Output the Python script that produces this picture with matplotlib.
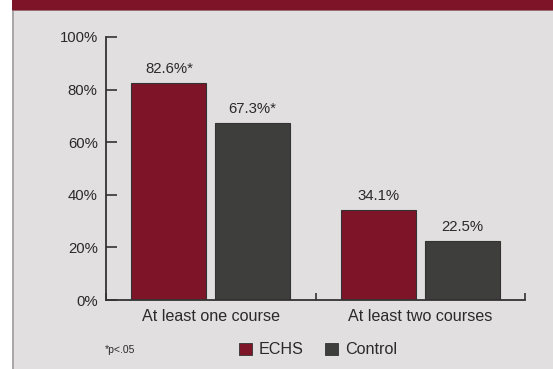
import matplotlib.pyplot as plt
import numpy as np
from matplotlib.patches import Rectangle, Patch

plt.rcParams['font.family'] = ['Liberation Sans', 'DejaVu Sans']

categories = ['At least one course', 'At least two courses']
echs = [82.6, 34.1]
control = [67.3, 22.5]
echs_labels = ['82.6%*', '34.1%']
control_labels = ['67.3%*', '22.5%']
y_ticks = [0, 20, 40, 60, 80, 100]

maroon = '#7e1428'
charcoal = '#3e3e3c'
panel = '#e1dfdf'
ink = '#2a2a2a'

fig = plt.figure(figsize=(5.53, 3.69), dpi=100)
fig.patch.set_facecolor('white')

# gray panel with a left rule and the maroon header strip
W, H = 553, 369
fig.patches.append(Rectangle((14 / W, 0), 1, 1, transform=fig.transFigure,
                             facecolor=panel, edgecolor='none', zorder=-3))
fig.patches.append(Rectangle((12 / W, 0), 2 / W, 1, transform=fig.transFigure,
                             facecolor='#a9a7a7', edgecolor='none', zorder=-2))
fig.patches.append(Rectangle((12 / W, 1 - 11 / H), 1, 11 / H, transform=fig.transFigure,
                             facecolor='#9a6a72', edgecolor='none', zorder=-1))
fig.patches.append(Rectangle((12 / W, 1 - 10 / H), 1, 10 / H, transform=fig.transFigure,
                             facecolor=maroon, edgecolor='none', zorder=0))

ax = fig.add_axes([106 / W, 1 - 300 / H, (525 - 106) / W, (300 - 37) / H])
ax.set_facecolor('none')

x = np.arange(len(categories))
width = 0.357
offset = 0.2
b1 = ax.bar(x - offset, echs, width, color=maroon, edgecolor='#333333', linewidth=0.8)
b2 = ax.bar(x + offset, control, width, color=charcoal, edgecolor='#333333', linewidth=0.8)

for bars, labels in ((b1, echs_labels), (b2, control_labels)):
    for rect, lab in zip(bars, labels):
        ax.annotate(lab, (rect.get_x() + rect.get_width() / 2, rect.get_height()),
                    xytext=(0, 5), textcoords='offset points',
                    ha='center', va='bottom', fontsize=10.7, color=ink)

ax.set_xlim(-0.5, 1.5)
ax.set_ylim(0, 100)
ax.set_yticks(y_ticks)
ax.set_yticklabels([f'{t}%' for t in y_ticks])
ax.set_xticks(x)
ax.set_xticklabels(categories)
ax.set_xticks([-0.5, 0.5, 1.5], minor=True)

ax.tick_params(axis='y', direction='in', length=8, width=1.2, color='#333333',
               pad=6, labelsize=10.7, labelcolor=ink)
ax.tick_params(axis='x', which='major', length=0, pad=6.5, labelsize=11.6, labelcolor=ink)
ax.tick_params(axis='x', which='minor', direction='in', length=5, width=1.2, color='#333333')

for side in ('top', 'right'):
    ax.spines[side].set_visible(False)
for side in ('left', 'bottom'):
    ax.spines[side].set_color('#333333')
    ax.spines[side].set_linewidth(1.3)

handles = [Patch(facecolor=maroon, edgecolor='#333333', linewidth=0.6, label='ECHS'),
           Patch(facecolor=charcoal, edgecolor='#333333', linewidth=0.6, label='Control')]
fig.legend(handles=handles, loc='center', bbox_to_anchor=(318 / W, 1 - 350 / H),
           ncol=2, frameon=False, fontsize=11.6, handlelength=0.8, handleheight=0.8,
           handletextpad=0.45, columnspacing=1.3, labelcolor=ink)

fig.text(105 / W, 1 - 350 / H, '*p<.05', fontsize=7.5, color=ink, va='center', ha='left')

fig.savefig('out.png', dpi=100, facecolor=fig.get_facecolor())
